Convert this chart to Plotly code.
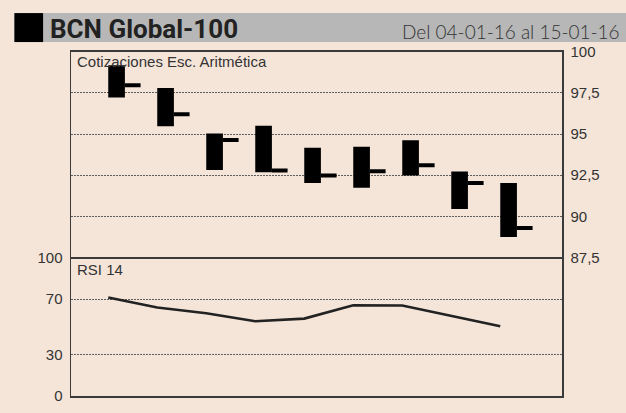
import plotly.graph_objects as go

# ---- data ----
sessions = ["04-01-16", "05-01-16", "07-01-16", "08-01-16", "11-01-16",
            "12-01-16", "13-01-16", "14-01-16", "15-01-16"]
high = [99.18, 97.80, 95.04, 95.50, 94.17, 94.23, 94.62, 92.72, 92.02]
low = [97.22, 95.47, 92.82, 92.68, 92.02, 91.73, 92.48, 90.44, 88.75]
close = [97.97, 96.21, 94.64, 92.79, 92.48, 92.74, 93.11, 92.02, 89.29]
rsi = [71.1, 63.9, 59.8, 54.0, 55.9, 65.5, 65.3, 57.8, 50.4]

price_ticks = [100, 97.5, 95, 92.5, 90, 87.5]
price_ticktext = ["100", "97,5", "95", "92,5", "90", "87,5"]
rsi_ticks = [0, 30, 70, 100]
rsi_ticktext = ["0", "30", "70", "100"]

# ---- style ----
BG = "#f5e5d9"
INK = "#222222"
AX = "#3a3a3a"
GRID = "#5e5e5e"
W, H = 626, 413

idx = list(range(1, len(sessions) + 1))
body_w = 0.34

fig = go.Figure()

# high-low bodies
fig.add_trace(go.Bar(
    x=idx, base=low, y=[h - l for h, l in zip(high, low)],
    width=body_w, marker=dict(color="#000000", line=dict(width=0)),
    xaxis="x", yaxis="y", showlegend=False, hoverinfo="skip"))

# close ticks
tx, ty = [], []
for i, c in zip(idx, close):
    tx += [i + body_w / 2, i + 0.49, None]
    ty += [c, c, None]
fig.add_trace(go.Scatter(x=tx, y=ty, mode="lines",
                         line=dict(color="#000000", width=4),
                         xaxis="x", yaxis="y", showlegend=False, hoverinfo="skip"))

# RSI
fig.add_trace(go.Scatter(x=idx, y=rsi, mode="lines",
                         line=dict(color=INK, width=2.6),
                         xaxis="x2", yaxis="y2", showlegend=False, hoverinfo="skip"))

# the photographed page maps vertically as pic = 9.2 + 0.96 * page
VA, VB = 0.96, 9.2

def px_x(p):
    return p / W

def px_y(p):
    return 1 - ((p - VB) / VA) / H

x0, x1 = px_x(71), px_x(562)
top1, mid, bot2 = 52, 258, 396.7
xr = [0.07, 10.09]
shift = body_w / 2

tickfont = dict(family="Liberation Sans, Arial, sans-serif", size=15, color="#333333")
grid = dict(showgrid=True, gridcolor=GRID, griddash="2px,1px", gridwidth=1)

fig.update_layout(
    width=W, height=H,
    margin=dict(l=0, r=0, t=0, b=0),
    paper_bgcolor=BG, plot_bgcolor=BG,
    showlegend=False,
    xaxis=dict(domain=[x0, x1], range=xr, showticklabels=False, showgrid=False,
               zeroline=False, showline=True, mirror=True, linecolor=AX, linewidth=1.5,
               anchor="y"),
    yaxis=dict(domain=[px_y(mid), px_y(top1)], range=[87.5, 100], side="right",
               tickvals=price_ticks, ticktext=price_ticktext, tickfont=tickfont,
               zeroline=False, showline=True, mirror=True, linecolor=AX, linewidth=1.5,
               ticks="", ticklabelstandoff=4, anchor="x", **grid),
    xaxis2=dict(domain=[x0, x1], range=[xr[0] + shift, xr[1] + shift],
                showticklabels=False, showgrid=False, zeroline=False,
                showline=True, mirror=False, linecolor=AX, linewidth=1.5, anchor="y2"),
    yaxis2=dict(domain=[px_y(bot2), px_y(mid)], range=[0, 100], side="left",
                tickvals=rsi_ticks, ticktext=rsi_ticktext, tickfont=tickfont,
                zeroline=False, showline=True, mirror=True, linecolor=AX, linewidth=1.5,
                ticks="", ticklabelstandoff=4, anchor="x2", **grid),
    shapes=[
        dict(type="rect", xref="paper", yref="paper",
             x0=px_x(14.4), x1=1.0, y0=px_y(42.3), y1=px_y(13.3),
             fillcolor="#b7b7b7", line=dict(width=0), layer="below"),
        dict(type="rect", xref="paper", yref="paper",
             x0=px_x(14.4), x1=px_x(43.1), y0=px_y(42.3), y1=px_y(13.3),
             fillcolor="#000000", line=dict(width=0), layer="below"),
    ],
    annotations=[
        dict(text="<b>BCN Global-100</b>", xref="paper", yref="paper",
             x=px_x(48), y=px_y(29), xanchor="left", yanchor="middle", showarrow=False,
             font=dict(family="Roboto, sans-serif", size=26, color=INK)),
        dict(text="Del 04-01-16 al 15-01-16", xref="paper", yref="paper",
             x=px_x(622), y=px_y(32), xanchor="right", yanchor="middle", showarrow=False,
             font=dict(family="Lato, sans-serif", size=19, color="#333333", weight=300)),
        dict(text="Cotizaciones Esc. Aritmética", xref="paper", yref="paper",
             x=px_x(75), y=px_y(62), xanchor="left", yanchor="middle", showarrow=False,
             font=dict(family="Liberation Sans, Arial, sans-serif", size=15, color="#333333")),
        dict(text="RSI 14", xref="paper", yref="paper",
             x=px_x(75), y=px_y(270), xanchor="left", yanchor="middle", showarrow=False,
             font=dict(family="Liberation Sans, Arial, sans-serif", size=15, color="#333333")),
    ],
)

fig.write_html("out.html",
               config={"displayModeBar": False, "staticPlot": True},
               post_script="document.body.style.margin='0';document.body.style.overflow='hidden';")
